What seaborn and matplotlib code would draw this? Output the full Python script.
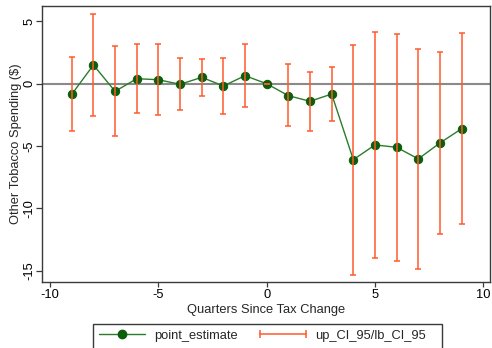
import numpy as np
import pandas as pd
import matplotlib
matplotlib.use("Agg")
import matplotlib.pyplot as plt
import seaborn as sns
from matplotlib.lines import Line2D
from matplotlib.patches import Rectangle
from matplotlib.legend_handler import HandlerLine2D

quarters = [-9, -8, -7, -6, -5, -4, -3, -2, -1, 0, 1, 2, 3, 4, 5, 6, 7, 8, 9]
point_estimate = [-0.85, 1.50, -0.61, 0.40, 0.32, -0.05, 0.51, -0.18, 0.64, 0.0,
                  -0.96, -1.41, -0.83, -6.09, -4.91, -5.10, -6.03, -4.75, -3.61]
up_ci_95 = [2.11, 5.56, 3.00, 3.21, 3.21, 2.03, 1.98, 2.08, 3.21, 0.0,
            1.55, 0.96, 1.36, 3.10, 4.17, 3.98, 2.80, 2.56, 4.06]
lb_ci_95 = [-3.79, -2.56, -4.22, -2.35, -2.51, -2.11, -0.99, -2.45, -1.84, 0.0,
            -3.41, -3.77, -2.99, -15.30, -13.99, -14.18, -14.87, -12.04, -11.27]
xticks = [-10, -5, 0, 5, 10]
yticks = [5, 0, -5, -10, -15]

df = pd.DataFrame({"q": quarters, "est": point_estimate, "up": up_ci_95, "lb": lb_ci_95})

sns.set_theme(style="ticks")
plt.rcParams["font.family"] = ["Liberation Sans", "DejaVu Sans"]
plt.rcParams["axes.unicode_minus"] = False

W, H = 492, 348
fig = plt.figure(figsize=(W / 100, H / 100), dpi=100)
ax = fig.add_axes([42.3 / W, 1 - 282 / H, (490 - 42.3) / W, (282 - 6) / H])

ORANGE = "#ff5a2b"
GREEN_LINE = "#2a7d2a"
GREEN_DOT = "#0b5e0b"
FRAME = "#3a3a3a"

ax.axhline(0, color="#8a8a8a", lw=1.5, zorder=1)

sns.lineplot(data=df, x="q", y="est", ax=ax, color=GREEN_LINE, lw=1.0,
             marker="o", markersize=6, markerfacecolor=GREEN_DOT,
             markeredgecolor=GREEN_DOT, zorder=2, legend=False)

ax.errorbar(df["q"], df["est"],
            yerr=[df["est"] - df["lb"], df["up"] - df["est"]],
            fmt="none", ecolor=ORANGE, elinewidth=1.1, capsize=2.4,
            capthick=1.1, zorder=3)

ax.set_xlim(-10.36, 10.31)
ax.set_ylim(-15.9, 6.23)
ax.set_xticks(xticks)
ax.set_yticks(yticks)
ax.set_yticklabels([str(v) for v in yticks], rotation=90, va="center")
ax.tick_params(axis="both", labelsize=9.3, colors="black", width=0.9, color=FRAME)
ax.tick_params(axis="x", length=3.5, pad=1.5)
ax.tick_params(axis="y", length=4.2, pad=1.0)
for s in ax.spines.values():
    s.set_color(FRAME)
    s.set_linewidth(1.0)
    s.set_visible(True)

axw, axh = 490 - 42.3, 282 - 6
ax.set_xlabel("Quarters Since Tax Change", fontsize=9.3)
ax.set_ylabel("Other Tobacco Spending ($)", fontsize=9.3)
ax.xaxis.set_label_coords(0.5, -(303.5 - 282) / axh)
ax.yaxis.set_label_coords((21.5 - 42.3) / axw, 0.5)

h1 = Line2D([], [], color=GREEN_LINE, lw=1.0, marker="o", markersize=6,
            markerfacecolor=GREEN_DOT, markeredgecolor=GREEN_DOT)
h2 = Line2D([], [], color=ORANGE, lw=1.1, marker="|", markersize=6,
            markeredgewidth=1.1)
leg = fig.legend([h1, h2], ["point_estimate", "up_CI_95/lb_CI_95"],
                 loc="upper left", bbox_to_anchor=(92.7 / W, 1 - 324 / H),
                 bbox_transform=fig.transFigure, ncol=2, fontsize=9.3,
                 frameon=False,
                 handlelength=3.6, handletextpad=0.7, columnspacing=1.7,
                 borderpad=0.45, borderaxespad=0,
                 handler_map={h2: HandlerLine2D(numpoints=2, marker_pad=0)})
fig.patches.append(Rectangle((92.7 / W, -0.05), (442.3 - 92.7) / W,
                             (348 - 324) / H + 0.05, transform=fig.transFigure,
                             fill=False, edgecolor=FRAME, lw=1.0))

fig.savefig("out.png", dpi=100)
